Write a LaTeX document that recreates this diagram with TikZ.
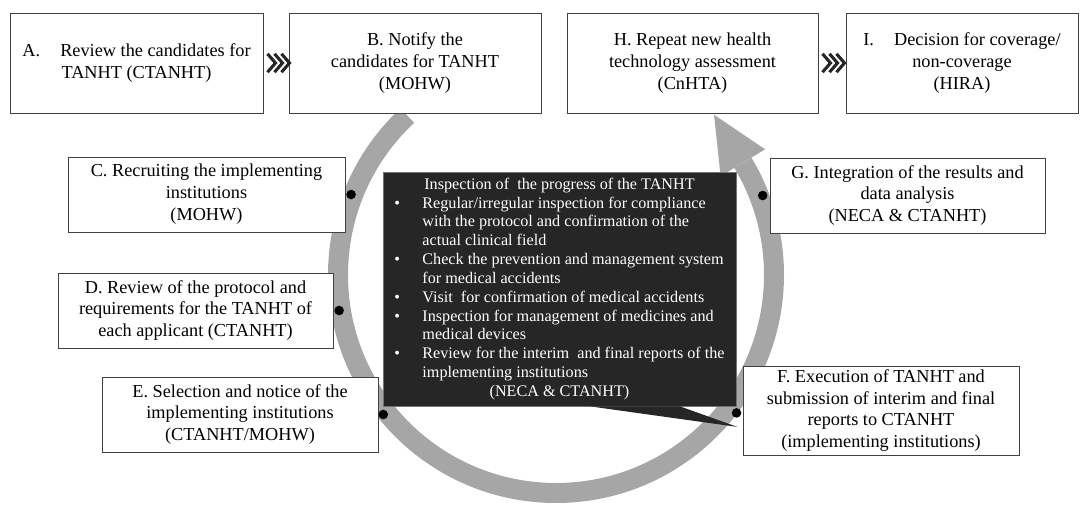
\documentclass[tikz,border=0pt]{standalone}
\usepackage{fontspec}
\setmainfont{Liberation Serif}
\usetikzlibrary{calc}
\definecolor{ringgray}{RGB}{166,166,166}
\definecolor{inspdark}{RGB}{38,38,38}

\begin{document}
\begin{tikzpicture}[
    stagebox/.style={draw=black!75, line width=0.7pt, fill=white, align=center, inner sep=2pt, font=\fontsize{13}{15.6}\selectfont, minimum height=1.875cm},
    topbox/.style={stagebox, minimum height=2.5cm},
    inspbox/.style={draw=black!55, line width=0.5pt, fill=inspdark, text=white, inner sep=0pt, font=\fontsize{11.5}{13.4}\selectfont, minimum width=8.825cm, minimum height=5.85cm},
    dot/.style={circle, fill=black, inner sep=0pt, minimum size=0.24cm},
    chevron/.style={line width=2.2pt, black!85},
    ring/.style={ringgray, line width=0.5cm}]
    \useasboundingbox (0,0) rectangle (27.075,12.6);
    % the cycle
    \coordinate (ctr) at (13.9,5.725);
    \draw[ring] (ctr) ++(133:5.45) arc[start angle=133, end angle=391, radius=5.45];
    \fill[ringgray] ($(ctr)+(31:6.1)$) -- ($(ctr)+(31:5.45)+(121:1.4)$) -- ($(ctr)+(31:4.8)$) -- cycle;
    % top row
    \node[topbox, minimum width=6.325cm] (A) at (3.4125,11.025) {A.\hspace{1.1em}Review the candidates for\\TANHT (CTANHT)};
    \node[topbox, minimum width=6.3cm] (B) at (10.375,11.025) {B. Notify the\\candidates for TANHT\\(MOHW)};
    \node[topbox, minimum width=6.275cm] (H) at (17.3125,11.025) {H. Repeat new health\\technology assessment\\(CnHTA)};
    \node[topbox, minimum width=5.8cm] (I) at (24.05,11.025) {I.\hspace{1.1em}Decision for coverage/\\non-coverage\\(HIRA)};
    \foreach \i in {0,1,2} {
        \draw[chevron] ([xshift=0.1cm+\i*0.175cm, yshift=0.23cm]A.east) -- ++(0.2,-0.23) -- ++(-0.2,-0.23);
        \draw[chevron] ([xshift=0.1cm+\i*0.175cm, yshift=0.23cm]H.east) -- ++(0.2,-0.23) -- ++(-0.2,-0.23);
    }
    % left side
    \node[stagebox, minimum width=6.925cm] (C) at (5.1625,7.7375) {C. Recruiting the implementing\\institutions\\(MOHW)};
    \node[stagebox, minimum width=6.875cm] (D) at (4.8875,4.8375) {D. Review of the protocol and\\requirements for the TANHT of\\each applicant (CTANHT)};
    \node[stagebox, minimum width=6.9cm] (E) at (6.0,2.2375) {E. Selection and notice of the\\implementing institutions\\(CTANHT/MOHW)};
    % right side
    \node[stagebox, minimum width=6.875cm] (G) at (22.6875,7.7125) {G. Integration of the results and\\data analysis\\(NECA \& CTANHT)};
    \node[stagebox, minimum width=6.9cm, minimum height=2.225cm] (F) at (22.025,2.3375) {F. Execution of TANHT and\\submission of interim and final\\reports to CTANHT\\(implementing institutions)};
    % inspection
    \node[inspbox] (insp) at (13.9875,5.375) {\begin{tabular}{@{}p{0.7cm}@{}l@{}}
        \multicolumn{2}{c}{Inspection of\ \ the progress of the TANHT}\\
        \textbullet & Regular/irregular inspection for compliance\\
        & with the protocol and confirmation of the\\
        & actual clinical field\\
        \textbullet & Check the prevention and management system\\
        & for medical accidents\\
        \textbullet & Visit\ \ for confirmation of medical accidents\\
        \textbullet & Inspection for management of medicines and\\
        & medical devices\\
        \textbullet & Review for the interim\ \ and final reports of the\\
        & implementing institutions\\
        \multicolumn{2}{c}{(NECA \& CTANHT)}
    \end{tabular}};
    \coordinate (tail) at ([xshift=-0.13cm, yshift=-0.41cm]F.west);
    \fill[inspdark] ([xshift=0.76cm]insp.south) -- (tail) -- ([xshift=3.01cm]insp.south) -- cycle;
    % markers
    \node[dot] (dC) at ([xshift=0.14cm]C.east) {};
    \node[dot] (dD) at ([xshift=0.14cm]D.east) {};
    \node[dot] (dE) at ([xshift=0.12cm]E.east) {};
    \node[dot] (dG) at ([xshift=-0.17cm]G.west) {};
    \node[dot] (dF) at ([xshift=-0.15cm, yshift=-0.06cm]F.west) {};
\end{tikzpicture}
\end{document}
